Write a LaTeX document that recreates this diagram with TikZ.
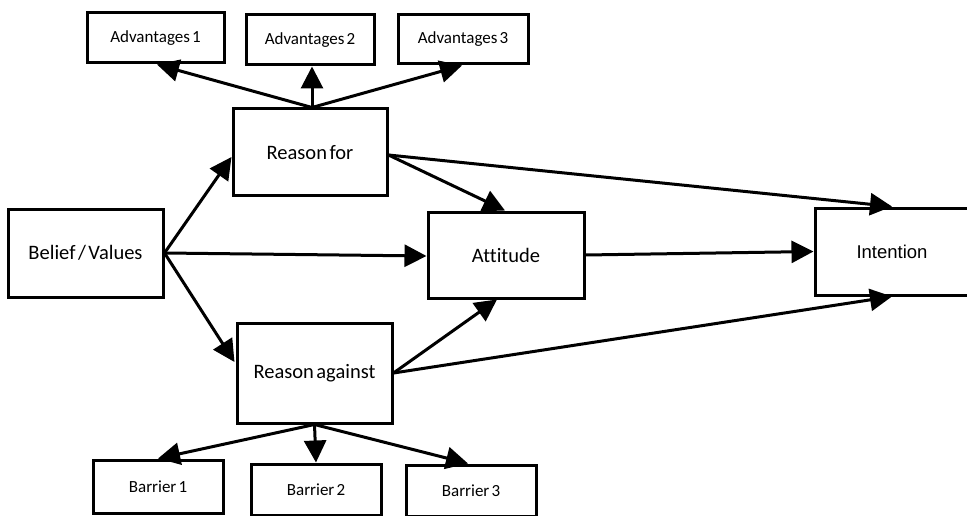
\documentclass[tikz,border=0pt]{standalone}
\usepackage{fontspec}
\setmainfont[Ligatures=CommonOff, WordSpace=0.55]{Carlito}
\newfontfamily\arialfont{Liberation Sans}
\usetikzlibrary{arrows.meta}

\tikzset{
  box/.style={draw=black, line width=3pt, fill=white, inner sep=0pt,
              align=center, font=\fontsize{20.5}{23}\selectfont},
  smallbox/.style={box, font=\fontsize{17}{19}\selectfont},
  arr/.style={line width=3pt, -{Triangle[length=22pt,width=22pt]}},
}

\begin{document}
\begin{tikzpicture}[x=1pt, y=-1pt]
  \useasboundingbox (0,0) rectangle (967,516);
  \fill[white] (0,0) rectangle (967,516);
  \clip (0,0) rectangle (967,516);

  % top row: advantages
  \node[smallbox, minimum width=137pt, minimum height=50pt] (adv1) at (155.5,38) {Advantages 1};
  \node[smallbox, minimum width=128pt, minimum height=50pt] (adv2) at (310,40) {Advantages 2};
  \node[smallbox, minimum width=130pt, minimum height=49pt] (adv3) at (463,39.5) {Advantages 3};

  % main chain
  \node[box, minimum width=154pt, minimum height=87pt] (rfor) at (310,152.5) {Reason for};
  \node[box, minimum width=155pt, minimum height=88pt] (bel) at (85.5,253) {Belief / Values};
  \node[box, minimum width=156pt, minimum height=86pt] (att) at (506,255) {Attitude};
  \node[box, minimum width=155pt, minimum height=100pt] (rag) at (314.5,373) {Reason against};
  \node[box, minimum width=154pt, minimum height=87pt,
        font=\arialfont\fontsize{18.5}{21}\selectfont] (int) at (892,251.5) {Intention};

  % bottom row: barriers
  \node[smallbox, minimum width=130pt, minimum height=53pt] (bar1) at (158,486.5) {Barrier 1};
  \node[smallbox, minimum width=130pt, minimum height=51pt] (bar2) at (316,489.5) {Barrier 2};
  \node[smallbox, minimum width=130pt, minimum height=51pt] (bar3) at (471,490.5) {Barrier 3};

  % reason for -> advantages
  \draw[arr] ([xshift=2pt]rfor.north) -- ([xshift=1.5pt]adv1.south);
  \draw[arr] ([xshift=2pt]rfor.north) -- ([xshift=2pt]adv2.south);
  \draw[arr] ([xshift=2pt]rfor.north) -- ([xshift=-1pt]adv3.south);

  % belief / values -> reasons and attitude
  \draw[arr] (bel.east) -- ([yshift=-4.5pt]rfor.west);
  \draw[arr] (bel.east) -- ([yshift=-1pt]att.west);
  \draw[arr] (bel.east) -- ([xshift=-1pt,yshift=11pt]rag.west);

  % reason for -> attitude, intention
  \draw[arr] ([yshift=-2.5pt]rfor.east) -- ([xshift=-1pt]att.north);
  \draw[arr] ([yshift=-2.5pt]rfor.east) -- (int.north);

  % attitude -> intention
  \draw[arr] (att.east) -- (int.west);

  % reason against -> attitude, intention
  \draw[arr] (rag.east) -- ([xshift=-9pt]att.south);
  \draw[arr] (rag.east) -- (int.south);

  % reason against -> barriers
  \draw[arr] (rag.south) -- (bar1.north);
  \draw[arr] (rag.south) -- (bar2.north);
  \draw[arr] (rag.south) -- ([xshift=-3pt]bar3.north);
\end{tikzpicture}
\end{document}
